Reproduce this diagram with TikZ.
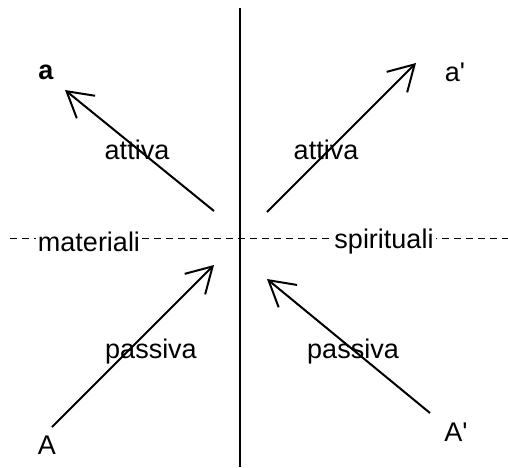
\documentclass[tikz,border=0pt]{standalone}
\usepackage{fontspec}
\setmainfont{Liberation Sans}[BoldFont={Liberation Sans Bold}]
\newfontfamily\plainf{Liberation Sans}
\usetikzlibrary{arrows.meta}
\begin{document}
\begin{tikzpicture}[x=1pt,y=-1pt,
  lbl/.style={font=\fontsize{27}{31}\selectfont, inner sep=1pt},
  band/.style={lbl, fill=white, inner sep=2pt},
  vec/.style={line width=2pt, -{Straight Barb[length=25pt,width=29pt,line width=2pt]}},
  axis/.style={line width=2pt},
  dashline/.style={line width=1pt, dash pattern=on 7pt off 5pt}]
\useasboundingbox (0,0) rectangle (508,467);
% axes
\coordinate (vt) at (240,8);
\coordinate (vb) at (240,467);
\coordinate (hl) at (10,238);
\coordinate (hr) at (508,238);
\draw[dashline] (hl) -- (hr);
\draw[axis] (vt) -- (vb);
% labels
\node[band] (mat) at (89,242) {materiali};
\node[band] (spi) at (384,242) {spirituali};
\node[lbl] (att1) at (137,150) {attiva};
\node[lbl] (att2) at (326,150) {attiva};
\node[lbl] (pas1) at (151,352) {passiva};
\node[lbl] (pas2) at (353,352) {passiva};
\node[lbl] (a) at (46,72) {\textbf{a}};
\node[lbl] (ap) at (455,72) {\plainf a'};
\node[lbl] (A) at (47,445) {A};
\node[lbl] (Ap) at (456,432) {\plainf A'};
% arrow end points
\coordinate (s1) at (214,211);
\coordinate (e1) at (65,90);
\coordinate (s2) at (267,212);
\coordinate (e2) at (416,63);
\coordinate (s3) at (52,427);
\coordinate (e3) at (214,265);
\coordinate (s4) at (430,413);
\coordinate (e4) at (267,279);
\draw[vec] (s1) -- (e1);
\draw[vec] (s2) -- (e2);
\draw[vec] (s3) -- (e3);
\draw[vec] (s4) -- (e4);
\end{tikzpicture}
\end{document}
